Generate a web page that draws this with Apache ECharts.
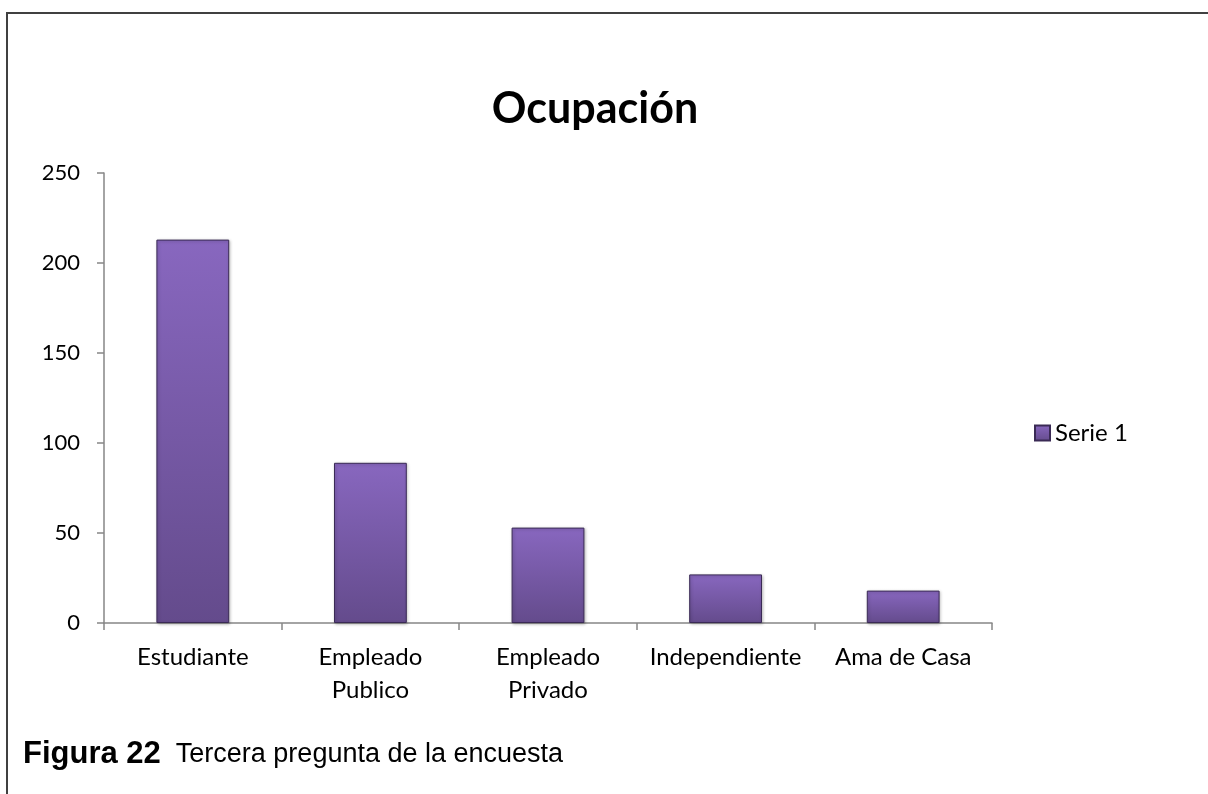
<!DOCTYPE html>
<html>
<head>
<meta charset="utf-8">
<script src="https://cdn.jsdelivr.net/npm/echarts@6/dist/echarts.min.js"></script>
<style>
html,body{margin:0;padding:0;background:#fff;}
#chart{width:1208px;height:794px;}
</style>
</head>
<body>
<div id="chart"></div>
<script>
var categories = ['Estudiante', 'Empleado\nPublico', 'Empleado\nPrivado', 'Independiente', 'Ama de Casa'];
var serie1 = [213, 89, 53, 27, 18];
var seriesName = 'Serie 1';
var chartTitle = 'Ocupación';
var captionBold = 'Figura 22';
var captionText = 'Tercera pregunta de la encuesta';

var chart = echarts.init(document.getElementById('chart'));
var barGradient = new echarts.graphic.LinearGradient(0, 0, 0, 1, [
  {offset: 0, color: '#8867bf'},
  {offset: 1, color: '#644b8c'}
]);
chart.setOption({
  backgroundColor: '#fff',
  animation: false,
  title: [{
    text: chartTitle,
    left: 590,
    textAlign: 'center',
    top: 83,
    textStyle: {fontFamily: 'Lato', fontWeight: 'bold', fontSize: 43, color: '#000'}
  }, {
    text: '{b|' + captionBold + '}{n|  ' + captionText + '}',
    left: 18,
    top: 734,
    textStyle: {
      rich: {
        b: {fontFamily: 'Liberation Sans', fontWeight: 'bold', fontSize: 31, color: '#000'},
        n: {fontFamily: 'Liberation Sans', fontWeight: 'normal', fontSize: 27, color: '#000'}
      }
    }
  }],
  legend: {
    data: [seriesName],
    left: 1034,
    top: 421,
    padding: 0,
    orient: 'vertical',
    icon: 'rect',
    itemWidth: 15,
    itemHeight: 15,
    textStyle: {fontFamily: 'Lato', fontSize: 24, color: '#000'}
  },
  grid: {left: 104, right: 216, top: 173, bottom: 171, containLabel: false},
  xAxis: {
    type: 'category',
    data: categories,
    boundaryGap: true,
    axisLine: {lineStyle: {color: '#868686', width: 1.5}},
    axisTick: {show: true, length: 7, lineStyle: {color: '#868686', width: 1.5}},
    axisLabel: {fontFamily: 'Lato', fontSize: 24, color: '#000', margin: 18, lineHeight: 33, interval: 0}
  },
  yAxis: {
    type: 'value',
    min: 0,
    max: 250,
    interval: 50,
    axisLine: {show: true, lineStyle: {color: '#868686', width: 1.5}},
    axisTick: {show: true, length: 7, lineStyle: {color: '#868686', width: 1.5}},
    splitLine: {show: false},
    axisLabel: {fontFamily: 'Lato', fontSize: 22, color: '#000', margin: 24}
  },
  series: [{
    name: seriesName,
    type: 'bar',
    data: serie1,
    barCategoryGap: '59%',
    itemStyle: {
      color: barGradient,
      borderColor: '#3a2a55',
      borderWidth: 1,
      shadowColor: 'rgba(0,0,0,0.25)',
      shadowBlur: 3,
      shadowOffsetX: 1,
      shadowOffsetY: 1
    }
  }],
  graphic: [{
    type: 'rect',
    silent: true,
    shape: {x: 7, y: 13, width: 1220, height: 800},
    style: {fill: null, stroke: '#404040', lineWidth: 2}
  }]
});
</script>
</body>
</html>
